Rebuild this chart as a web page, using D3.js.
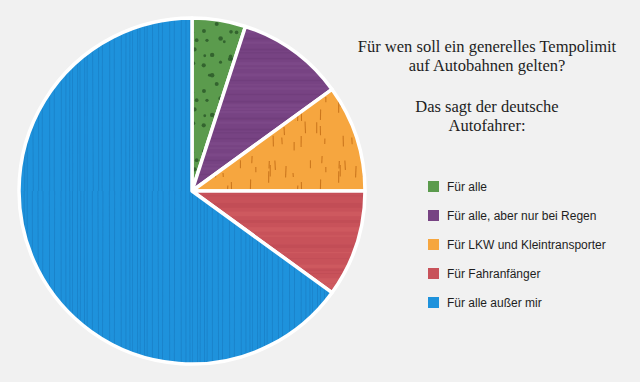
<!DOCTYPE html>
<html>
<head>
<meta charset="utf-8">
<script src="https://cdn.jsdelivr.net/npm/d3@7"></script>
<style>
  html, body { margin: 0; padding: 0; background: #f1f1f1; }
  svg { display: block; }
</style>
</head>
<body>
<svg id="chart" width="640" height="382"></svg>
<script>
// ---- data ----
const categories = ["Für alle", "Für alle, aber nur bei Regen", "Für LKW und Kleintransporter", "Für Fahranfänger", "Für alle außer mir"];
const values = [5, 10, 10, 10, 65];
const colors = ["#5b9b4d", "#774383", "#f6a63f", "#c8525a", "#1e92dc"];
const titleLines = ["Für wen soll ein generelles Tempolimit", "auf Autobahnen gelten?"];
const subtitleLines = ["Das sagt der deutsche", "Autofahrer:"];

const svg = d3.select("#chart");
svg.append("rect").attr("width", 640).attr("height", 382).attr("fill", "#f1f1f1");
const defs = svg.append("defs");

// deterministic pseudo-random for texture decoration only
let seed = 11;
function rnd() { seed = (seed * 16807) % 2147483647; return (seed - 1) / 2147483646; }

// green: dots
const pg = defs.append("pattern").attr("id", "tex0").attr("patternUnits", "userSpaceOnUse")
  .attr("width", 60).attr("height", 60);
pg.append("rect").attr("width", 60).attr("height", 60).attr("fill", colors[0]);
for (let gx = 0; gx < 6; gx++) {
  for (let gy = 0; gy < 5; gy++) {
    pg.append("circle").attr("cx", gx * 10 + rnd() * 9).attr("cy", gy * 12 + rnd() * 11)
      .attr("r", 1.4 + rnd() * 1.0).attr("fill", "#2c5a29").attr("opacity", 0.85);
  }
}
// purple: horizontal bands
const pp = defs.append("pattern").attr("id", "tex1").attr("patternUnits", "userSpaceOnUse")
  .attr("width", 40).attr("height", 80);
pp.append("rect").attr("width", 40).attr("height", 80).attr("fill", colors[1]);
for (let y = 0; y < 80; y += 3 + rnd() * 4) {
  pp.append("rect").attr("x", 0).attr("y", y).attr("width", 40).attr("height", 1 + rnd() * 2)
    .attr("fill", rnd() > 0.5 ? "#6a3874" : "#84508f").attr("opacity", 0.4);
}
// orange: short vertical dashes
const po = defs.append("pattern").attr("id", "tex2").attr("patternUnits", "userSpaceOnUse")
  .attr("width", 70).attr("height", 70);
po.append("rect").attr("width", 70).attr("height", 70).attr("fill", colors[2]);
for (let i = 0; i < 22; i++) {
  const x = rnd() * 70, y = rnd() * 70, len = 4 + rnd() * 9;
  po.append("line").attr("x1", x).attr("x2", x + (rnd() - 0.5)).attr("y1", y).attr("y2", y + len)
    .attr("stroke", "#c46d15").attr("stroke-width", 1.1).attr("opacity", 0.85);
}
// red: horizontal bands
const pr = defs.append("pattern").attr("id", "tex3").attr("patternUnits", "userSpaceOnUse")
  .attr("width", 40).attr("height", 100);
pr.append("rect").attr("width", 40).attr("height", 100).attr("fill", colors[3]);
for (let y = 0; y < 100; y += 3 + rnd() * 6) {
  pr.append("rect").attr("x", 0).attr("y", y).attr("width", 40).attr("height", 1 + rnd() * 4)
    .attr("fill", rnd() > 0.5 ? "#b84750" : "#d86366").attr("opacity", 0.4);
}
// blue: vertical lines
const pb = defs.append("pattern").attr("id", "tex4").attr("patternUnits", "userSpaceOnUse")
  .attr("width", 60).attr("height", 382);
pb.append("rect").attr("width", 60).attr("height", 382).attr("fill", colors[4]);
for (let x = 0.5; x < 60; x += 3 + rnd() * 3.5) {
  const x2 = x + (rnd() - 0.5) * 2;
  pb.append("path").attr("d", `M${x},0 Q${(x + x2) / 2 + (rnd() - 0.5) * 2},191 ${x2},382`)
    .attr("fill", "none").attr("stroke", "#1676bd").attr("stroke-width", 0.8).attr("opacity", 0.7);
}

// ---- pie ----
const cx = 192, cy = 191, R = 173;
const pie = d3.pie().sort(null).value(d => d)(values);
const arc = d3.arc().innerRadius(0).outerRadius(R);
const g = svg.append("g").attr("transform", `translate(${cx},${cy})`);
g.selectAll("path.slice").data(pie).join("path")
  .attr("class", "slice")
  .attr("d", arc)
  .attr("fill", (d, i) => `url(#tex${i})`)
  .attr("stroke", "#ffffff")
  .attr("stroke-width", 3.5)
  .attr("stroke-linejoin", "round");

// ---- title ----
const tx = 487;
const serif = "'Liberation Serif', 'DejaVu Serif', serif";
titleLines.forEach((t, i) => {
  svg.append("text").attr("x", tx).attr("y", 52 + i * 19).attr("text-anchor", "middle")
    .attr("font-family", serif).attr("font-size", 16.5).attr("fill", "#1e1e1e").text(t);
});
subtitleLines.forEach((t, i) => {
  svg.append("text").attr("x", tx).attr("y", 112 + i * 19).attr("text-anchor", "middle")
    .attr("font-family", serif).attr("font-size", 16.5).attr("fill", "#1e1e1e").text(t);
});

// ---- legend ----
const legend = svg.append("g").attr("transform", "translate(428,191)");
const rows = legend.selectAll("g").data(categories).join("g")
  .attr("transform", (d, i) => `translate(0,${i * 29})`);
rows.append("rect").attr("x", 0).attr("y", -10).attr("width", 11).attr("height", 11)
  .attr("fill", (d, i) => colors[i]);
rows.append("text").attr("x", 19).attr("y", 0)
  .attr("font-family", "'Liberation Sans', Arial, sans-serif").attr("font-size", 12)
  .attr("fill", "#1e1e1e").text(d => d);
</script>
</body>
</html>
